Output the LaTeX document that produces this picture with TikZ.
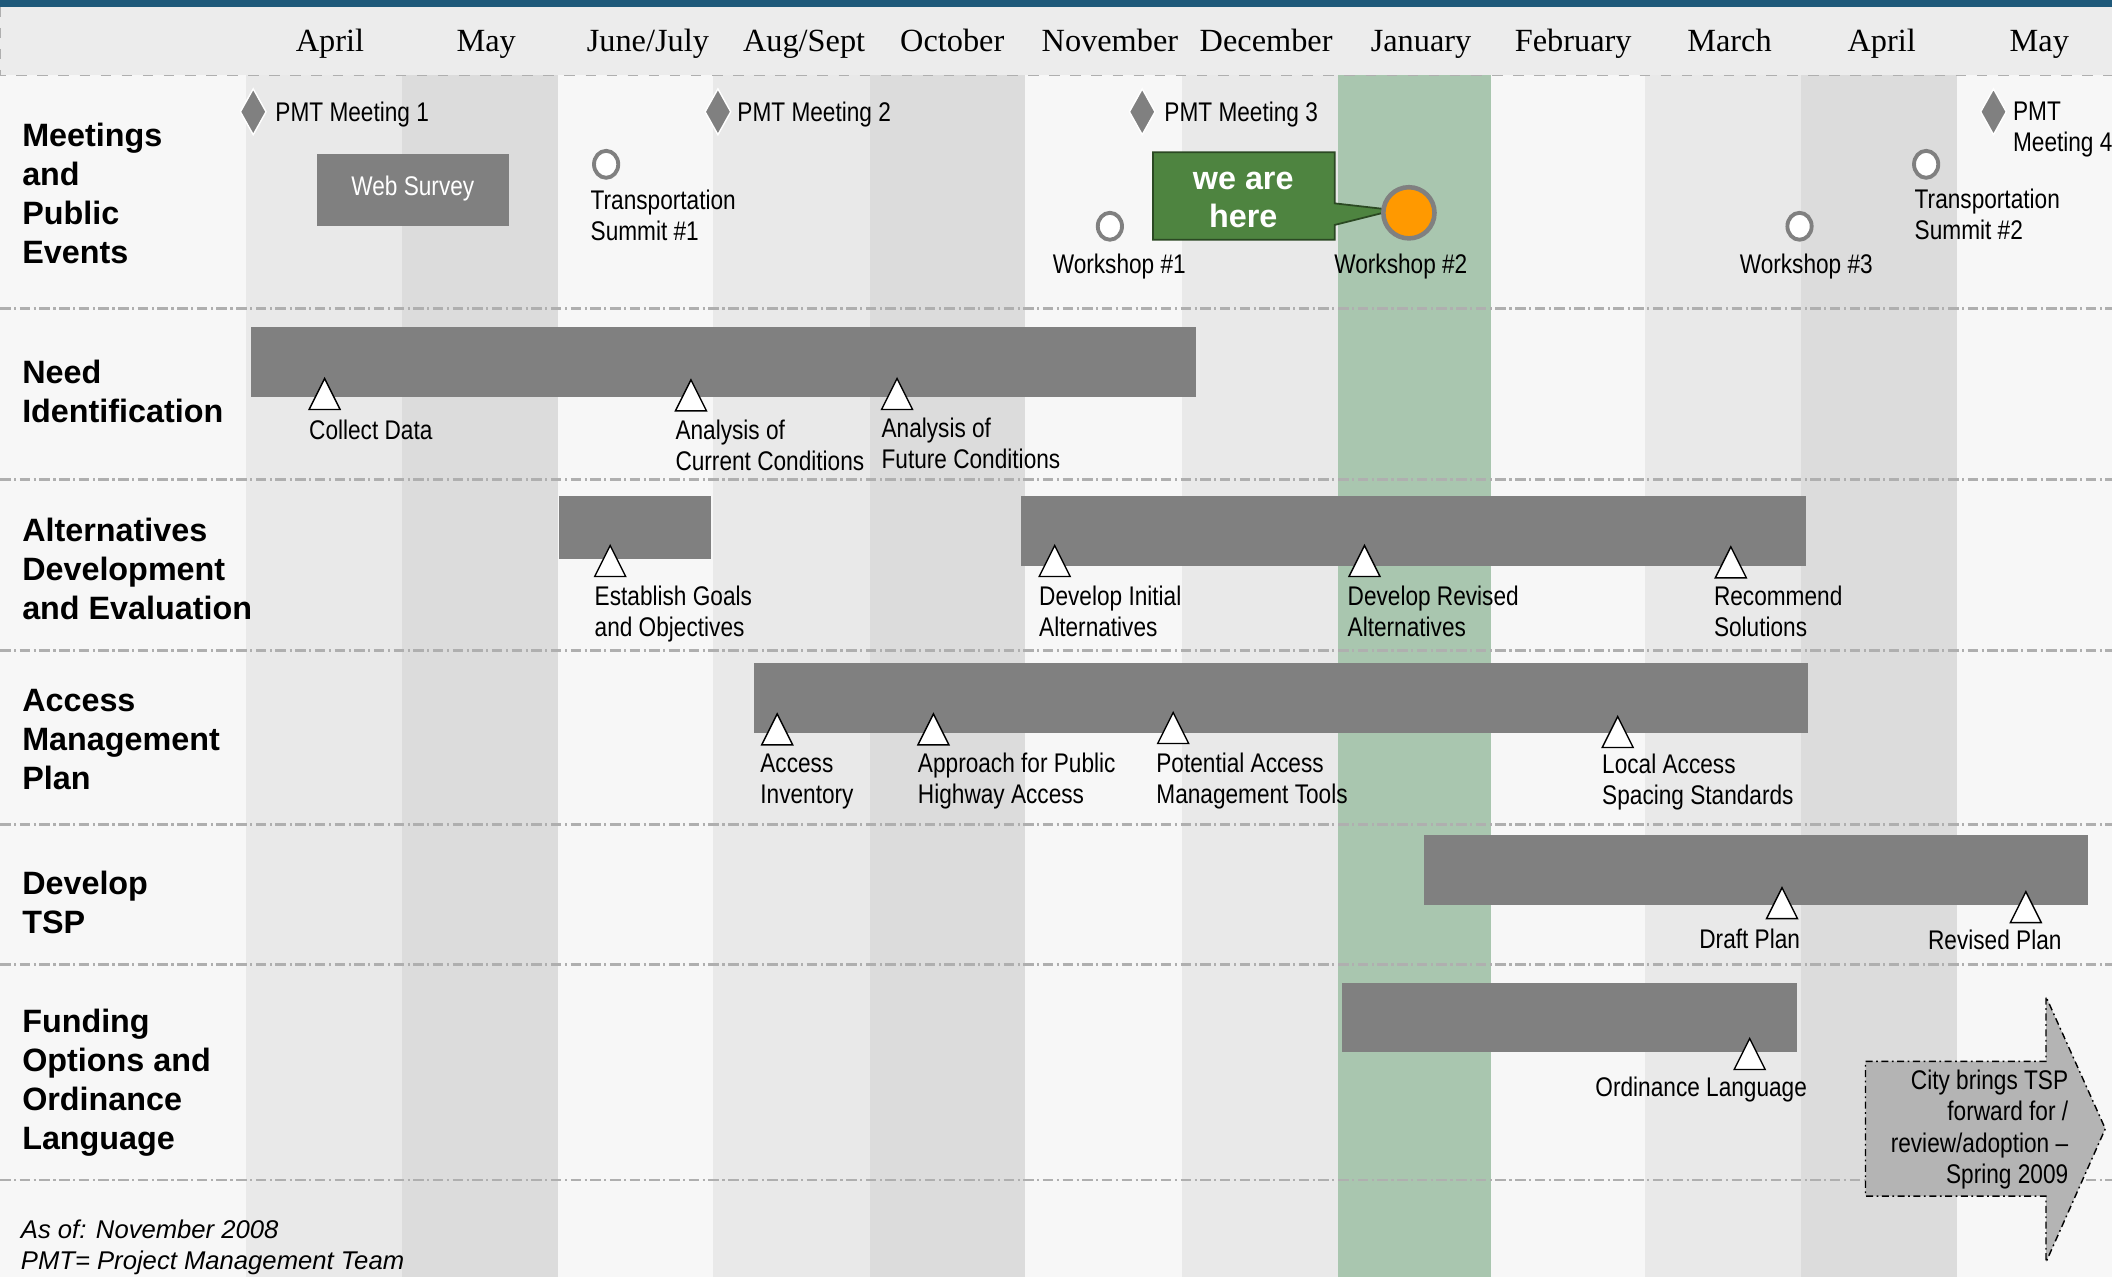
\documentclass[tikz,border=0pt]{standalone}
\usepackage{fontspec}
\setmainfont{Liberation Sans}
\newfontfamily\narrowfont[FakeStretch=0.84]{Liberation Sans}
\newfontfamily\monthfont{Liberation Serif}
\usetikzlibrary{shapes.geometric}
\newcommand{\myunit}{0.01347cm}
\definecolor{headblue}{RGB}{31,89,122}
\definecolor{bgray}{RGB}{247,247,247}
\definecolor{headgray}{RGB}{236,236,236}
\definecolor{clight}{RGB}{233,233,233}
\definecolor{cdark}{RGB}{220,220,220}
\definecolor{cgreen}{RGB}{169,198,175}
\definecolor{bargray}{RGB}{128,128,128}
\definecolor{heregreen}{RGB}{78,132,64}
\definecolor{hereorange}{RGB}{255,153,0}
\definecolor{arrowgray}{RGB}{180,180,180}
\definecolor{linegray}{RGB}{175,175,175}
\newcommand{\mstone}[2]{\draw[line style tri] (#1,#2) -- ++(-11.5,23) -- ++(23,0) -- cycle;}
\newcommand{\pmtmark}[2]{\draw[line style pmt] (#1,#2) ++(0,-17) -- ++(9.5,17) -- ++(-9.5,17) -- ++(-9.5,-17) -- cycle;}
\tikzset{
    node style month/.style={font=\monthfont\fontsize{9.2}{11}\selectfont,anchor=base,inner sep=0pt},
    node style row/.style={font=\bfseries\fontsize{9.2}{11.1}\selectfont,align=left,anchor=north west,inner sep=0pt},
    node style lab/.style={font=\narrowfont\fontsize{7.67}{8.8}\selectfont,align=left,anchor=north west,inner sep=0pt},
    node style one/.style={font=\narrowfont\fontsize{7.67}{8.8}\selectfont,anchor=base,inner sep=0pt},
    node style ws/.style={ellipse,draw=bargray,fill=white,line width=1.1pt,inner sep=0pt,minimum width=18*\myunit,minimum height=20*\myunit},
    node style now/.style={circle,draw=bargray,fill=hereorange,line width=1.3pt,inner sep=0pt,minimum size=38*\myunit},
    line style row/.style={draw=linegray,line width=0.75pt,dash pattern=on 3pt off 1pt on 0.6pt off 1pt},
    line style tri/.style={draw=black,fill=white,line width=0.4pt},
    line style pmt/.style={draw=white,fill=bargray,line width=0.4pt},
}

\begin{document}
\begin{tikzpicture}[x=\myunit,y=-\myunit]
\useasboundingbox (0,0) rectangle (1568,948);
\fill[bgray] (0,0) rectangle (1568,948);

% month columns
\fill[clight] (182.6,56) rectangle (298.4,948);
\fill[cdark] (298.4,56) rectangle (414.3,948);
\fill[clight] (529.3,56) rectangle (645.9,948);
\fill[cdark] (645.9,56) rectangle (761,948);
\fill[clight] (877.5,56) rectangle (993,948);
\fill[cgreen] (993,56) rectangle (1107,948);
\fill[clight] (1221,56) rectangle (1337,948);
\fill[cdark] (1337,56) rectangle (1453,948);

\draw[line style row] (0,229)--(1568,229);
\draw[line style row] (0,356)--(1568,356);
\draw[line style row] (0,483)--(1568,483);
\draw[line style row] (0,612)--(1568,612);
\draw[line style row] (0,716)--(1568,716);
\draw[line style row] (0,876)--(1568,876);

% header
\fill[headgray] (0,5) rectangle (1568,56);
\draw[linegray,dashed,line width=0.3pt] (0.5,5)--(0.5,56)--(1568,56);
\fill[headblue] (0,0) rectangle (1568,5);

\node [node style month] (mApr) at (245,38) {April};
\node [node style month] (mMay) at (361,38) {May};
\node [node style month] (mJun) at (481,38) {June/July};
\node [node style month] (mAug) at (597,38) {Aug/Sept};
\node [node style month] (mOct) at (707,38) {October};
\node [node style month] (mNov) at (824,38) {November};
\node [node style month] (mDec) at (940,38) {December};
\node [node style month] (mJan) at (1055,38) {January};
\node [node style month] (mFeb) at (1168,38) {February};
\node [node style month] (mMar) at (1284,38) {March};
\node [node style month] (mApr2) at (1397,38) {April};
\node [node style month] (mMay2) at (1514,38) {May};

% row titles
\node [node style row] (rowMeet) at (16,91) {Meetings\\and\\Public\\Events};
\node [node style row] (rowNeed) at (16,267) {Need\\Identification};
\node [node style row] (rowAlt) at (16,384) {Alternatives\\Development\\and Evaluation};
\node [node style row] (rowAccess) at (16,511) {Access\\Management\\Plan};
\node [node style row] (rowTsp) at (16,646) {Develop\\TSP};
\node [node style row] (rowFund) at (16,749) {Funding\\Options and\\Ordinance\\Language};

% meetings and public events
\pmtmark{188}{83}
\pmtmark{533}{83}
\pmtmark{848}{83}
\pmtmark{1480}{83}
\node [node style one,anchor=base west] (pmt1Lab) at (204,90) {PMT Meeting 1};
\node [node style one,anchor=base west] (pmt2Lab) at (547,90) {PMT Meeting 2};
\node [node style one,anchor=base west] (pmt3Lab) at (864,90) {PMT Meeting 3};
\node [node style lab] (pmt4Lab) at (1494,75.5) {PMT\\Meeting 4};

\fill[bargray] (235,114) rectangle (378,168);
\node [node style one,anchor=center,text=white] (webSurvey) at (306.5,140) {Web Survey};

\node [node style ws] (ts1) at (450,122) {};
\node [node style lab] (ts1Lab) at (438,140.5) {Transportation\\Summit \#1};
\node [node style ws] (ts2) at (1430,122) {};
\node [node style lab] (ts2Lab) at (1421,139.5) {Transportation\\Summit \#2};
\node [node style ws] (ws1) at (824,168) {};
\node [node style one] (ws1Lab) at (831,203) {Workshop \#1};
\node [node style ws] (ws3) at (1336,168) {};
\node [node style one] (ws3Lab) at (1341,203) {Workshop \#3};

\draw[draw=heregreen!55!black,fill=heregreen,line width=0.5pt] (856,113)--(991,113)--(991,151)--(1035,156)--(991,167)--(991,178)--(856,178)--cycle;
\node [font=\bfseries\fontsize{9.2}{10.7}\selectfont,align=center,text=white,inner sep=0pt] (weAreHere) at (923,148.5) {we are\\here};
\node [node style now] (ws2) at (1046,158) {};
\node [node style one] (ws2Lab) at (1040,203) {Workshop \#2};

% need identification
\fill[bargray] (186,243) rectangle (888,295);
\mstone{241}{281}
\mstone{513}{282}
\mstone{666}{281}
\node [node style one,anchor=base west] (collectData) at (229,326) {Collect Data};
\node [node style lab] (curCond) at (501,311.5) {Analysis of\\Current Conditions};
\node [node style lab] (futCond) at (654,309.5) {Analysis of\\Future Conditions};

% alternatives
\fill[bargray] (415,368) rectangle (528,415);
\fill[bargray] (758,368) rectangle (1341,420);
\mstone{453}{405}
\mstone{783}{405}
\mstone{1013}{405}
\mstone{1285}{406}
\node [node style lab] (goals) at (441,434.5) {Establish Goals\\and Objectives};
\node [node style lab] (altInit) at (771,434.5) {Develop Initial\\Alternatives};
\node [node style lab] (altRev) at (1000,434.5) {Develop Revised\\Alternatives};
\node [node style lab] (recSol) at (1272,434.5) {Recommend\\Solutions};

% access management
\fill[bargray] (560,492) rectangle (1342,544);
\mstone{577}{530}
\mstone{693}{530}
\mstone{871}{529}
\mstone{1201}{532}
\node [node style lab] (accInv) at (564,559.5) {Access\\Inventory};
\node [node style lab] (approach) at (681,558.5) {Approach for Public\\Highway Access};
\node [node style lab] (tools) at (858,558.5) {Potential Access\\Management Tools};
\node [node style lab] (spacing) at (1189,559.5) {Local Access\\Spacing Standards};

% develop tsp
\fill[bargray] (1057,620) rectangle (1550,672);
\mstone{1323}{659}
\mstone{1504}{662}
\node [node style one] (draftPlan) at (1299,704) {Draft Plan};
\node [node style one] (revPlan) at (1481,705) {Revised Plan};

% funding
\fill[bargray] (996,730) rectangle (1334,781);
\mstone{1299}{771}
\node [node style one] (ordLang) at (1263,814) {Ordinance Language};

\draw[fill=arrowgray,draw=black,line width=0.4pt,dash pattern=on 2pt off 1pt on 0.5pt off 1pt] (1385,788)--(1519,788)--(1519,740)--(1563,838)--(1519,937)--(1519,888)--(1385,888)--cycle;
\node [node style lab,anchor=north east,align=right,font=\narrowfont\fontsize{7.67}{9}\selectfont] (cityTsp) at (1536,793.5) {City brings TSP\\forward for /\\review/adoption \textendash\\Spring 2009};

% footnote
\node [font=\itshape\fontsize{7.3}{8.8}\selectfont,align=left,anchor=north west,inner sep=0pt] (asOf) at (15,905) {As of: November 2008\\PMT= Project Management Team};

\end{tikzpicture}
\end{document}
